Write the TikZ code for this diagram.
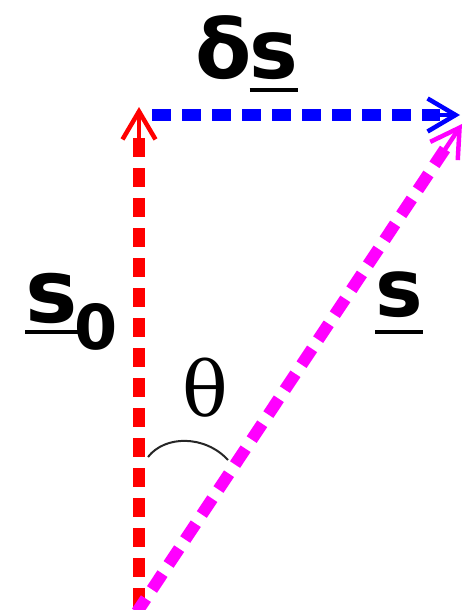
\documentclass[tikz,border=0pt]{standalone}
\usepackage{fontspec}
\usetikzlibrary{arrows.meta}
\newfontfamily\lblfont{DejaVu Sans}
\newfontfamily\thetafont{DejaVu Serif}
\definecolor{vred}{rgb}{1,0,0}
\definecolor{vblue}{rgb}{0,0,1}
\definecolor{vmag}{rgb}{1,0,1}
\newcommand\ulsym[2]{\setbox0=\hbox{#2}\rlap{\rule[-#1]{\wd0}{4pt}}\box0}
\tikzset{
  vecline/.style={line width=12pt, dash pattern=on 19pt off 11pt},
  tipline/.style={line width=4.5pt, -{Straight Barb[length=28pt,width=33pt]}},
  lbl/.style={inner sep=0pt, anchor=base west, font=\lblfont\bfseries},
}
\begin{document}
\begin{tikzpicture}[x=1pt,y=-1pt]
\useasboundingbox (0,0) rectangle (466,610);
% coordinates
\coordinate (O) at (139,612);
\coordinate (Rend) at (139,138);
\coordinate (Rthin) at (139,150);
\coordinate (Rtip) at (139,107);
\coordinate (Bstart) at (152,115);
\coordinate (Bend) at (440,115);
\coordinate (Bthin) at (430,115);
\coordinate (Btip) at (460,115);
\coordinate (M0) at (137,612);
\coordinate (Mend) at (445,149);
\coordinate (Mthin) at (440,157);
\coordinate (Mtip) at (462,124);
\coordinate (A1) at (148,457);
\coordinate (A2) at (228,460);
% red vector s0
\draw[vecline, vred] (Rend) -- (O);
\draw[tipline, vred] (Rthin) -- (Rtip);
% magenta vector s
\draw[vecline, vmag] (Mend) -- (M0);
\draw[tipline, vmag] (Mthin) -- (Mtip);
% blue vector delta s
\draw[vecline, vblue] (Bstart) -- (Bend);
\draw[tipline, vblue] (Bthin) -- (Btip);
% angle arc
\draw[line width=2pt, black!85] (A1) .. controls (165,435) and (205,435) .. (A2);
% labels
\node[lbl, font=\lblfont\bfseries\fontsize{82}{90}\selectfont] (ds) at (195,78) {δ\kern-2pt\ulsym{14pt}{s}};
\node[lbl, font=\lblfont\bfseries\fontsize{88}{96}\selectfont] (s0) at (25,322) {\ulsym{12pt}{s}\kern-3pt{\fontsize{62}{70}\selectfont\raisebox{-27pt}{0}}};
\node[lbl, font=\lblfont\bfseries\fontsize{80}{84}\selectfont] (s) at (375,316) {\ulsym{18pt}{s}};
\node[inner sep=0pt, anchor=base west, font=\thetafont\fontsize{76}{88}\selectfont] (th) at (182,416) {θ};
\end{tikzpicture}
\end{document}
